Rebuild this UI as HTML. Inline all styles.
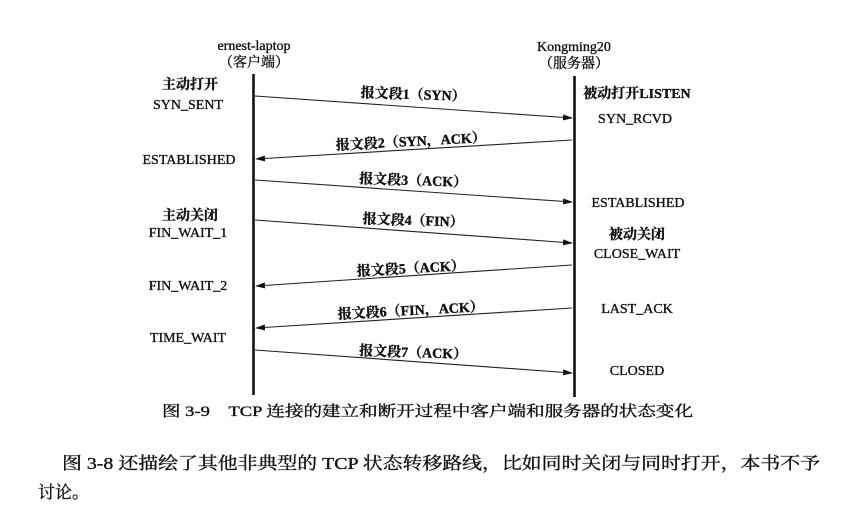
<!DOCTYPE html>
<html><head><meta charset="utf-8"><style>
html,body{margin:0;padding:0;background:#fff;width:853px;height:506px;overflow:hidden}
svg{display:block}
text{font-family:"Liberation Serif","Noto Serif CJK SC",serif;fill:#111;stroke:#111;stroke-width:0.35}
</style></head><body>
<svg width="853" height="506" viewBox="0 0 853 506" xmlns="http://www.w3.org/2000/svg">
<defs><marker id="a" markerWidth="10" markerHeight="6" refX="9" refY="3" orient="auto" markerUnits="userSpaceOnUse"><path d="M0,0 L10,3 L0,6 z" fill="#111"/></marker></defs>
<g font-size="14" text-anchor="middle">
<text x="254" y="50">ernest-laptop</text>
<text x="254" y="67">（客户端）</text>
<text x="574" y="51">Kongming20</text>
<text x="574" y="68">（服务器）</text>
</g>
<line x1="253.5" y1="74" x2="253.5" y2="395" stroke="#111" stroke-width="2.6"/>
<line x1="574.5" y1="76" x2="574.5" y2="397" stroke="#111" stroke-width="2.6"/>
<g stroke="#222" stroke-width="1.1" fill="none" marker-end="url(#a)">
<line x1="255" y1="96" x2="572" y2="118"/>
<line x1="572" y1="140" x2="256" y2="159"/>
<line x1="255" y1="180" x2="572" y2="202"/>
<line x1="255" y1="220" x2="572" y2="243"/>
<line x1="572" y1="265" x2="256" y2="286"/>
<line x1="572" y1="308" x2="256" y2="328"/>
<line x1="255" y1="350" x2="572" y2="373"/>
</g>
<g font-size="14" text-anchor="middle" font-weight="bold">
<text x="413" y="99" transform="rotate(2 413 99)">报文段1（SYN）</text>
<text x="411" y="146" transform="rotate(-3 411 146)">报文段2（SYN，ACK）</text>
<text x="413" y="185" transform="rotate(2 413 185)">报文段3（ACK）</text>
<text x="413" y="225" transform="rotate(2 413 225)">报文段4（FIN）</text>
<text x="411" y="273" transform="rotate(-3 411 273)">报文段5（ACK）</text>
<text x="411" y="315" transform="rotate(-3 411 315)">报文段6（FIN，ACK）</text>
<text x="413" y="357" transform="rotate(2 413 357)">报文段7（ACK）</text>
</g>
<g font-size="14" text-anchor="middle">
<text x="190" y="89" font-weight="bold">主动打开</text>
<text x="188" y="109">SYN_SENT</text>
<text x="189" y="164">ESTABLISHED</text>
<text x="190" y="220" font-weight="bold">主动关闭</text>
<text x="188" y="237">FIN_WAIT_1</text>
<text x="188" y="290">FIN_WAIT_2</text>
<text x="188" y="342">TIME_WAIT</text>

<text x="637" y="98" font-weight="bold">被动打开LISTEN</text>
<text x="635" y="123">SYN_RCVD</text>
<text x="638" y="207">ESTABLISHED</text>
<text x="637" y="239" font-weight="bold">被动关闭</text>
<text x="637" y="258">CLOSE_WAIT</text>
<text x="637" y="313">LAST_ACK</text>
<text x="637" y="375">CLOSED</text>
</g>
<text x="162" y="416" font-size="15" textLength="531" lengthAdjust="spacingAndGlyphs">图 3-9　TCP 连接的建立和断开过程中客户端和服务器的状态变化</text>
<text x="62" y="469" font-size="17" textLength="758" lengthAdjust="spacingAndGlyphs">图 3-8 还描绘了其他非典型的 TCP 状态转移路线，比如同时关闭与同时打开，本书不予</text>
<text x="38" y="498" font-size="17">讨论。</text>
</svg>
</body></html>
